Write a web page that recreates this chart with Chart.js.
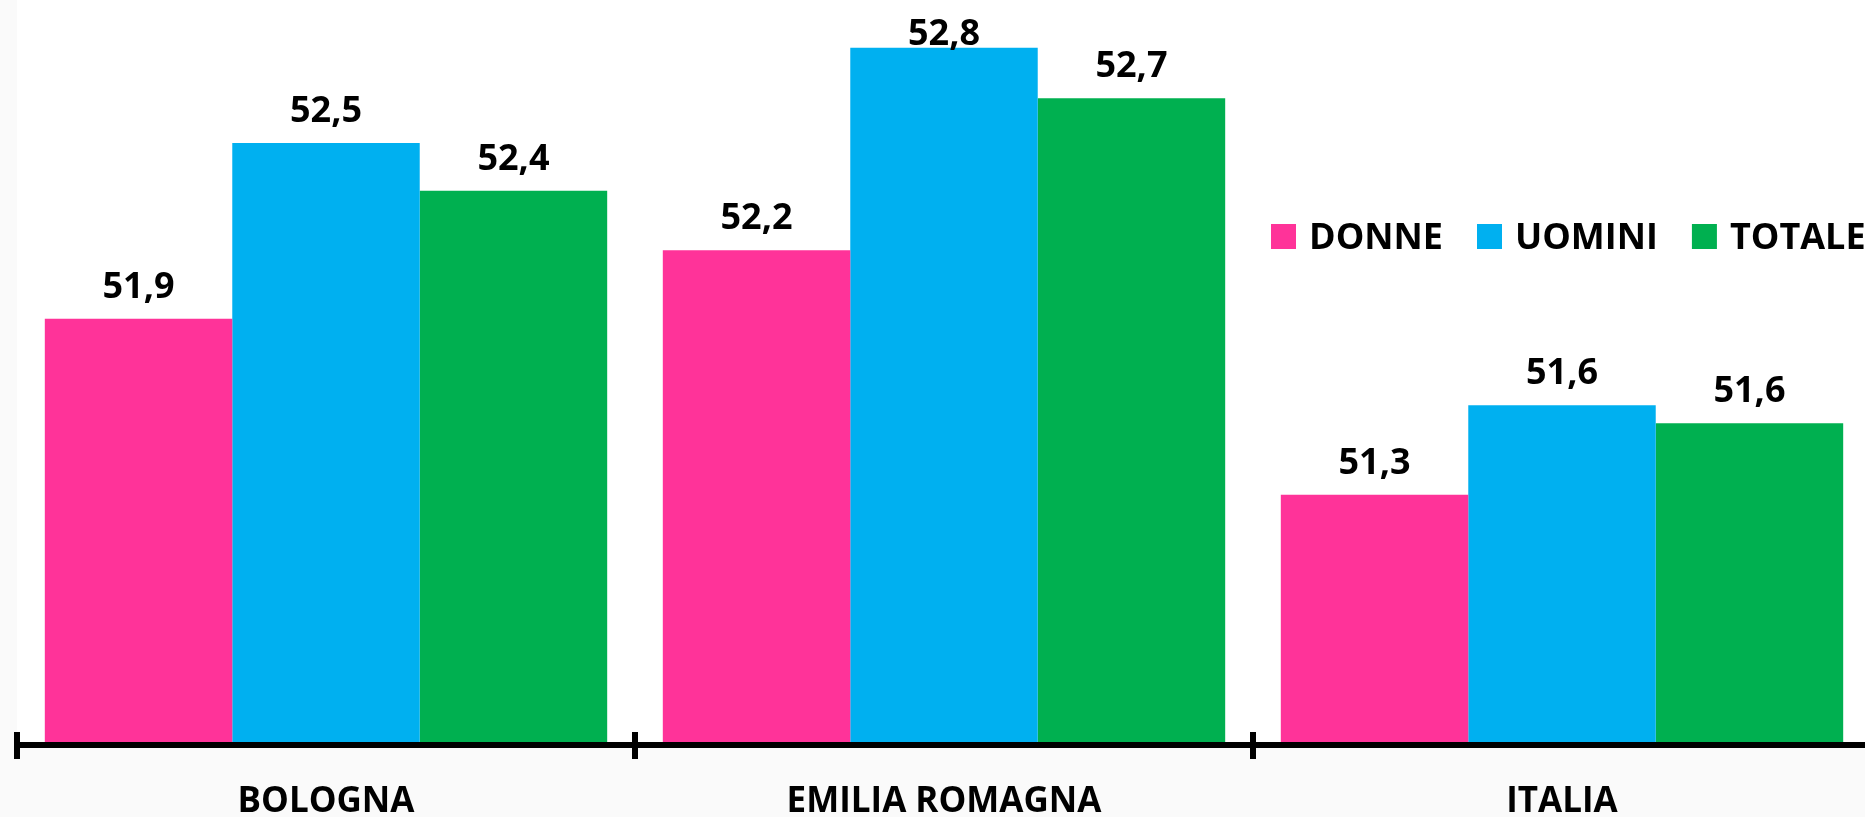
<!DOCTYPE html>
<html>
<head>
<meta charset="utf-8">
<script src="https://cdn.jsdelivr.net/npm/chart.js@4.4.0/dist/chart.umd.min.js"></script>
<style>
    body { margin: 0; background: #fafafa; overflow: hidden; }
    #wrap { width: 1880px; height: 860px; }
</style>
</head>
<body>
<div id="wrap"><canvas id="chart" width="1880" height="860"></canvas></div>
<script>
const categories = ["BOLOGNA", "EMILIA ROMAGNA", "ITALIA"]
const donne = [51.93, 52.16, 51.34]
const uomini = [52.52, 52.84, 51.64]
const totale = [52.36, 52.67, 51.58]
const seriesNames = ["DONNE", "UOMINI", "TOTALE"]
const seriesColors = ["#FF3399", "#00B0F0", "#00B050"]
const yMin = 50.5, yMax = 53

const boldFont = "bold 36px 'Open Sans'"

function formatValue(v) {
    return v.toFixed(1).replace('.', ',')
}

// white plot area, grey margin left and under the axis
const plotBackground = {
    id: 'plotBackground',
    beforeDraw(chart) {
        let ctx = chart.ctx, a = chart.chartArea
        ctx.save()
        ctx.fillStyle = '#ffffff'
        ctx.fillRect(a.left, 0, chart.width - a.left, a.bottom)
        ctx.restore()
    }
}

// tick marks crossing the axis line at category boundaries
const axisTicks = {
    id: 'axisTicks',
    afterDraw(chart) {
        let ctx = chart.ctx, xs = chart.scales.x, y0 = chart.chartArea.bottom
        let step = xs.width / categories.length
        ctx.save()
        ctx.fillStyle = '#000'
        for (let i = 0; i <= categories.length; i++) {
            let x = xs.left + i * step
            ctx.fillRect(Math.round(x) - 3, y0 - 13, 6, 27)
        }
        ctx.restore()
    }
}

const valueLabels = {
    id: 'valueLabels',
    afterDatasetsDraw(chart) {
        let ctx = chart.ctx
        ctx.save()
        ctx.font = boldFont
        ctx.fillStyle = '#000'
        ctx.textAlign = 'center'
        ctx.textBaseline = 'alphabetic'
        chart.data.datasets.forEach((ds, i) => {
            chart.getDatasetMeta(i).data.forEach((bar, j) => {
                let y = Math.max(bar.y - 21, 45)
                ctx.fillText(formatValue(ds.data[j]), bar.x, y)
            })
        })
        ctx.restore()
    }
}

// legend floating inside the plot, on the right
const floatLegend = {
    id: 'floatLegend',
    afterDraw(chart) {
        let ctx = chart.ctx
        let x = 1271, top = 224, box = 25
        ctx.save()
        ctx.font = boldFont
        ctx.textBaseline = 'alphabetic'
        chart.data.datasets.forEach((ds) => {
            ctx.fillStyle = ds.backgroundColor
            ctx.fillRect(x, top, box, box)
            ctx.fillStyle = '#000'
            ctx.fillText(ds.label, x + 38, top + box)
            x += 38 + ctx.measureText(ds.label).width + 34
        })
        ctx.restore()
    }
}

new Chart(document.getElementById('chart').getContext('2d'), {
    type: 'bar',
    data: {
        labels: categories,
        datasets: [donne, uomini, totale].map((values, i) => ({
            label: seriesNames[i],
            data: values,
            backgroundColor: seriesColors[i],
            borderWidth: 0,
            barPercentage: 1,
            categoryPercentage: 0.91
        }))
    },
    options: {
        responsive: false,
        animation: false,
        layout: { padding: { left: 17, right: 9, top: 0, bottom: 0 } },
        plugins: {
            legend: { display: false },
            tooltip: { enabled: false }
        },
        scales: {
            x: {
                grid: { display: false, drawTicks: false },
                border: { display: true, color: '#000', width: 6, z: 1 },
                ticks: {
                    color: '#000',
                    padding: 36.5,
                    font: { family: 'Open Sans', size: 35, weight: 'bold' }
                }
            },
            y: {
                display: false,
                min: yMin,
                max: yMax
            }
        }
    },
    plugins: [plotBackground, axisTicks, valueLabels, floatLegend]
})
</script>
</body>
</html>
